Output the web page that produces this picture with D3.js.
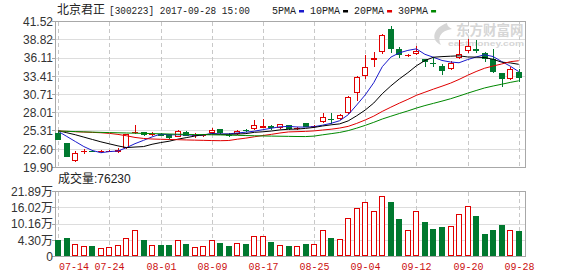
<!DOCTYPE html>
<html>
<head>
<meta charset="utf-8">
<script src="https://cdn.jsdelivr.net/npm/d3@7/dist/d3.min.js"></script>
<style>
  body { margin: 0; background: #fff; }
  svg { display: block; }
</style>
</head>
<body>
<svg id="kline" width="578" height="276"></svg>
<script>
// daily bars, price in yuan, volume in 万
var dates = ["07-14","07-17","07-18","07-19","07-20","07-21","07-24","07-25","07-26","07-27","07-28","07-31",
  "08-01","08-02","08-03","08-04","08-07","08-08","08-09","08-10","08-11","08-14","08-15","08-16","08-17","08-18",
  "08-21","08-22","08-23","08-24","08-25","08-28","08-29","08-30","08-31","09-01","09-04","09-05","09-06","09-07",
  "09-08","09-11","09-12","09-13","09-14","09-15","09-18","09-19","09-20","09-21","09-22","09-25","09-26","09-27","09-28"];
var open = [24.96,23.57,20.91,22.20,22.35,22.20,22.25,22.15,22.74,24.96,25.11,24.80,24.86,24.82,24.46,25.20,24.55,24.60,24.96,25.55,
  24.75,24.82,25.45,25.60,25.80,26.09,25.70,26.15,25.60,26.45,25.95,26.59,27.15,27.08,27.93,30.98,33.49,35.85,37.05,40.37,
  37.40,36.50,36.66,35.92,35.40,34.93,34.44,36.07,37.20,37.40,36.81,35.92,33.85,33.00,34.09];
var high = [25.25,23.60,22.30,22.60,22.45,22.45,22.50,22.75,24.90,26.19,25.20,25.15,24.95,24.90,25.40,25.30,24.95,24.85,25.70,25.65,
  24.95,25.45,25.55,26.93,27.04,26.20,26.40,26.20,25.90,26.50,26.25,27.93,28.00,27.75,30.45,33.45,36.56,37.05,39.60,40.85,
  37.79,36.70,37.94,36.00,36.30,35.20,35.70,38.80,38.92,38.80,37.05,37.40,33.95,34.75,34.50];
var low = [23.90,21.45,20.75,21.95,22.15,22.10,22.15,22.05,22.65,24.80,24.55,24.50,24.50,24.15,24.40,24.55,24.30,24.45,24.85,24.90,
  24.45,24.75,25.10,25.50,25.70,25.50,25.60,25.45,25.45,25.85,25.80,26.50,26.40,26.95,27.80,29.80,32.96,34.83,36.70,36.81,
  36.07,36.30,36.55,34.85,34.85,33.55,34.30,35.90,36.80,36.80,35.45,33.90,31.86,32.90,32.60];
var close = [23.97,21.50,22.09,22.30,22.25,22.30,22.35,22.50,24.82,25.20,24.71,24.90,24.60,24.22,25.31,24.61,24.65,24.70,25.45,24.96,
  24.65,25.31,25.30,26.19,26.05,25.75,26.30,25.65,25.75,25.95,26.10,27.42,27.00,27.67,30.38,33.35,34.83,36.05,39.52,37.45,
  36.56,36.60,37.20,35.48,35.25,34.23,35.42,36.66,37.84,37.15,35.92,34.09,32.96,34.44,33.11];
var volume = [4.30,5.15,2.84,2.10,2.10,1.48,1.74,2.47,5.29,7.97,4.30,2.47,2.47,2.47,4.56,2.84,1.85,2.10,4.56,3.31,
  2.10,3.31,2.84,5.77,5.77,3.68,2.47,2.10,2.10,2.84,2.84,7.97,5.15,4.93,12.25,15.92,18.12,14.93,20.42,17.97,
  12.00,7.97,14.93,11.01,8.33,9.07,9.43,13.83,16.50,13.21,6.61,7.97,9.91,7.97,7.623];

// moving averages as drawn
var ma5 = [25.25,24.50,23.75,23.00,22.42,22.09,22.26,22.34,22.84,23.43,23.92,24.43,24.85,24.73,24.75,24.73,24.68,24.70,24.94,24.87,
  24.88,25.01,25.13,25.28,25.50,25.72,25.92,25.99,25.90,25.88,25.95,26.17,26.44,26.83,27.71,29.16,30.65,32.46,34.83,36.24,
  36.88,37.24,37.47,36.66,36.22,35.75,35.52,35.41,35.88,36.26,36.60,36.33,35.59,34.91,34.10];
var ma10 = [25.35,25.05,24.75,24.40,24.05,23.70,23.40,23.10,22.85,22.93,23.00,23.34,23.59,23.79,24.09,24.32,24.55,24.77,24.84,24.81,
  24.81,24.85,24.92,25.11,25.19,25.30,25.47,25.56,25.59,25.69,25.84,26.05,26.22,26.36,26.80,27.56,28.41,29.45,30.83,31.98,
  33.02,33.94,34.96,35.74,36.23,36.32,36.38,36.44,36.27,36.24,36.18,35.92,35.50,35.39,35.18];
var ma20 = [25.30,25.25,25.20,25.15,25.10,25.05,24.95,24.80,24.60,24.35,24.20,24.12,24.08,24.05,24.02,23.98,23.95,23.92,23.89,23.87,
  23.90,24.09,24.25,24.45,24.64,24.81,25.01,25.17,25.21,25.25,25.32,25.45,25.57,25.74,25.99,26.43,26.94,27.51,28.21,28.83,
  29.43,29.99,30.59,31.05,31.51,31.94,32.39,32.94,33.55,34.11,34.60,34.93,35.23,35.57,35.71];
var ma30 = [25.30,25.26,25.22,25.18,25.14,25.10,25.07,25.04,25.01,24.98,24.95,24.92,24.89,24.86,24.83,24.80,24.78,24.76,24.74,24.72,
  24.69,24.66,24.63,24.60,24.57,24.55,24.53,24.51,24.49,24.48,24.55,24.74,24.91,25.09,25.36,25.73,26.14,26.59,27.08,27.49,
  27.89,28.28,28.70,29.07,29.40,29.73,30.08,30.48,30.90,31.30,31.68,31.97,32.23,32.50,32.74];

var priceTicks = [41.52, 38.82, 36.11, 33.41, 30.71, 28.01, 25.31, 22.60, 19.90];
var volTicks = [21.89, 16.02, 10.16, 4.30];
var volFloor = -1.56;   // value at the bottom edge of the volume pane, labelled "0"
var dateTicks = ["07-14","07-24","08-01","08-09","08-17","08-25","09-04","09-12","09-20","09-28"];
var maNames = ["5PMA", "10PMA", "20PMA", "30PMA"];
var maSeries = [ma5, ma10, ma20, ma30];
var maColors = ["#1a1acc", "#000000", "#e00000", "#008800"];

var svg = d3.select('#kline');
var red = '#e00000', green = '#00792f', gridC = '#dddddd', frameC = '#a8a8a8';
var sans = 'Liberation Sans, Arial, Noto Sans CJK SC, sans-serif';
var mono = 'Liberation Mono, DejaVu Sans Mono, monospace';
var L = 55.5, R = 525.5;

var x = d3.scaleBand().domain(dates).range([54, 523]).paddingInner(0.3).paddingOuter(0.15);
var y = d3.scaleLinear().domain([19.90, 41.52]).range([167.5, 21.5]);
var yv = d3.scaleLinear().domain([volFloor, 21.89]).range([256.5, 191.5]);
var bw = 6;
function mid(d) { return Math.round(x(d) + x.bandwidth() / 2); }
function px(v) { return Math.floor(v) + 0.5; }

// ---- price pane grid ----
var grid = svg.append('g').attr('shape-rendering', 'crispEdges');
grid.selectAll('.hp').data(priceTicks).enter().append('line')
    .attr('x1', L).attr('x2', R)
    .attr('y1', function (d) { return px(y(d)); }).attr('y2', function (d) { return px(y(d)); })
    .attr('stroke', gridC);
grid.selectAll('.hv').data(volTicks.slice(1)).enter().append('line')
    .attr('x1', L).attr('x2', R)
    .attr('y1', function (d) { return px(yv(d)); }).attr('y2', function (d) { return px(yv(d)); })
    .attr('stroke', gridC);
dateTicks.forEach(function (d) {
    [[y.range()[1], y.range()[0]], [yv.range()[1], yv.range()[0]]].forEach(function (r) {
        grid.append('line')
            .attr('x1', mid(d) + 0.5).attr('x2', mid(d) + 0.5)
            .attr('y1', r[0]).attr('y2', r[1])
            .attr('stroke', '#c8c8c8').attr('stroke-dasharray', '4,3');
    });
});
// frames
grid.append('rect').attr('x', L).attr('y', 21.5).attr('width', R - L).attr('height', 146)
    .attr('fill', 'none').attr('stroke', frameC);
grid.append('rect').attr('x', L).attr('y', 191.5).attr('width', R - L).attr('height', 65)
    .attr('fill', 'none').attr('stroke', frameC);
// left ticks
grid.selectAll('.tk').data(priceTicks).enter().append('line')
    .attr('x1', 52).attr('x2', L)
    .attr('y1', function (d) { return px(y(d)); }).attr('y2', function (d) { return px(y(d)); })
    .attr('stroke', frameC);
grid.selectAll('.tkv').data(volTicks.concat([volFloor])).enter().append('line')
    .attr('x1', 52).attr('x2', L)
    .attr('y1', function (d) { return px(yv(d)); }).attr('y2', function (d) { return px(yv(d)); })
    .attr('stroke', frameC);

// ---- watermark ----
var wm = svg.append('g').attr('fill', '#d6d6d6');
wm.append('path').attr('d', 'M447,23 C433,28 430,40 441,45 C437,38 440,31 452,29 C449,27 447,26 447,23 Z');
wm.append('text').attr('x', 456).attr('y', 35).attr('font-size', 13.5).attr('font-weight', 'bold')
    .attr('font-family', 'Noto Sans CJK SC').text('东方财富网');
wm.append('text').attr('x', 448).attr('y', 46).attr('font-size', 8).attr('font-weight', 'bold')
    .attr('font-family', sans).attr('textLength', 76).attr('lengthAdjust', 'spacingAndGlyphs').text('eastmoney.com');

// ---- candles ----
var idx = d3.range(dates.length);
var cg = svg.append('g').attr('shape-rendering', 'crispEdges');
idx.forEach(function (i) {
    var up = close[i] >= open[i];
    var col = up ? red : green;
    var c = mid(dates[i]);
    var top = Math.round(y(Math.max(open[i], close[i])));
    var bot = Math.round(y(Math.min(open[i], close[i])));
    var h = Math.max(1, bot - top);
    var hi = Math.round(y(high[i])), lo = Math.round(y(low[i]));
    cg.append('line').attr('x1', c + 0.5).attr('x2', c + 0.5).attr('y1', hi).attr('y2', top).attr('stroke', col);
    cg.append('line').attr('x1', c + 0.5).attr('x2', c + 0.5).attr('y1', top + h).attr('y2', lo).attr('stroke', col);
    if (up && h > 2) {
        cg.append('rect').attr('x', c - 3 + 0.5).attr('y', top + 0.5).attr('width', bw - 1).attr('height', h - 1)
            .attr('fill', '#fff').attr('stroke', col);
    } else {
        cg.append('rect').attr('x', c - 3).attr('y', top).attr('width', bw).attr('height', h).attr('fill', col);
    }
});

// ---- moving averages ----
maSeries.forEach(function (s, k) {
    var line = d3.line()
        .x(function (d, i) { return x(dates[i]) + x.bandwidth() / 2; })
        .y(function (d) { return y(d); });
    svg.append('path').datum(s).attr('d', line)
        .attr('fill', 'none').attr('stroke', maColors[k]).attr('stroke-width', 1);
});

// ---- volume bars ----
var vg = svg.append('g').attr('shape-rendering', 'crispEdges');
idx.forEach(function (i) {
    var up = close[i] >= open[i];
    var c = mid(dates[i]);
    var top = Math.round(yv(volume[i]));
    var bot = 256;
    if (up) {
        vg.append('rect').attr('x', c - 3 + 0.5).attr('y', top + 0.5).attr('width', bw - 1).attr('height', bot - top - 1)
            .attr('fill', '#fff').attr('stroke', red);
    } else {
        vg.append('rect').attr('x', c - 3).attr('y', top).attr('width', bw).attr('height', bot - top).attr('fill', green);
    }
});

// ---- axis labels ----
var lab = svg.append('g').attr('font-family', sans).attr('font-size', 12).attr('fill', '#333')
    .attr('text-anchor', 'end');
lab.selectAll('.pl').data(priceTicks).enter().append('text')
    .attr('x', 53).attr('y', function (d) { return y(d); }).attr('dy', '0.36em')
    .text(function (d) { return d.toFixed(2); });
lab.selectAll('.vl').data(volTicks).enter().append('text')
    .attr('x', 53).attr('y', function (d) { return yv(d); }).attr('dy', '0.36em')
    .text(function (d) { return d.toFixed(2) + '万'; });
lab.append('text').attr('x', 53).attr('y', yv(volFloor)).attr('dy', '0.36em').text('0');

svg.append('g').attr('font-family', mono).attr('font-size', 10).attr('fill', '#cc1111')
    .selectAll('text').data(dateTicks).enter().append('text')
    .attr('x', function (d, i) { return i === 0 ? 59 : mid(d) + 0.5; })
    .attr('text-anchor', function (d, i) { return i === 0 ? 'start' : 'middle'; })
    .attr('y', 270)
    .text(function (d) { return d; });

// ---- title, legend, volume caption ----
svg.append('text').attr('x', 57).attr('y', 14).attr('font-family', 'Noto Sans CJK SC').attr('font-size', 12)
    .attr('fill', '#222').text('北京君正');
svg.append('text').attr('x', 109).attr('y', 14).attr('font-family', mono).attr('font-size', 10.5)
    .attr('fill', '#222').attr('textLength', 141).attr('lengthAdjust', 'spacingAndGlyphs')
    .text('[300223] 2017-09-28 15:00');

var lx = 272;
maNames.forEach(function (n, k) {
    var t = svg.append('text').attr('x', lx).attr('y', 14).attr('font-family', mono).attr('font-size', 10)
        .attr('fill', '#222').text(n);
    lx += t.node().getComputedTextLength() + 3;
    svg.append('rect').attr('x', lx).attr('y', 10).attr('width', 5).attr('height', 2.5).attr('fill', maColors[k]);
    lx += 11;
});

svg.append('text').attr('x', 58).attr('y', 183).attr('font-family', sans).attr('font-size', 12)
    .attr('fill', '#222').text('成交量:' + Math.round(volume[volume.length - 1] * 10000));
</script>
</body>
</html>
